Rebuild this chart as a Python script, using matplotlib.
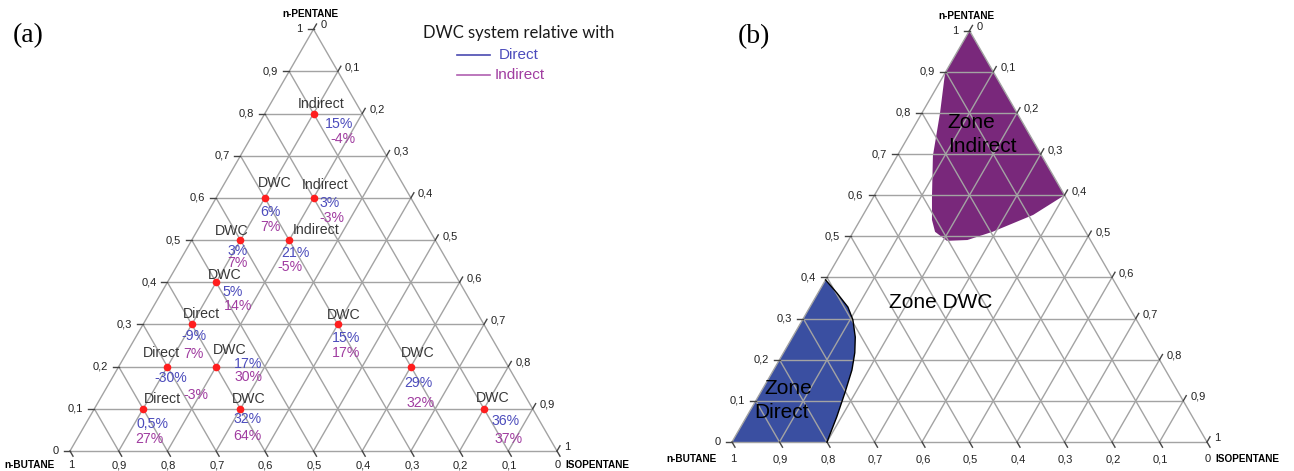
import numpy as np
import matplotlib
matplotlib.use("Agg")
import matplotlib.pyplot as plt
from matplotlib.patches import Polygon
from matplotlib.lines import Line2D

W, H, DPI = 1294, 471, 100
SQ = np.sqrt(3) / 2

# ---- data -------------------------------------------------------------
# feed compositions (mole fractions): n-pentane (top vertex), n-butane (left vertex)
pentane = [0.8, 0.6, 0.6, 0.5, 0.5, 0.4, 0.3, 0.2, 0.2, 0.1, 0.1, 0.3, 0.2, 0.1]
butane = [0.1, 0.3, 0.2, 0.4, 0.3, 0.5, 0.6, 0.7, 0.6, 0.8, 0.6, 0.3, 0.2, 0.1]
best_config = ["Indirect", "DWC", "Indirect", "DWC", "Indirect", "DWC", "Direct",
               "Direct", "DWC", "Direct", "DWC", "DWC", "DWC", "DWC"]
# DWC savings relative to the direct and indirect sequences (%)
vs_direct = [15, 6, 3, 3, 21, 5, -9, -30, 17, 0.5, 32, 15, 29, 36]
vs_indirect = [-4, 7, -3, 7, -5, 14, 7, -3, 30, 27, 64, 17, 32, 37]

ticks = [0.0, 0.1, 0.2, 0.3, 0.4, 0.5, 0.6, 0.7, 0.8, 0.9, 1.0]

# zone boundaries (n-pentane, n-butane)
zone_indirect_pentane = [1.0, 0.6, 0.552, 0.511, 0.491, 0.489, 0.511, 0.540, 0.596, 0.696, 0.80, 0.897]
zone_indirect_butane = [0.0, 0.0, 0.09, 0.196, 0.259, 0.303, 0.317, 0.309, 0.281, 0.229, 0.162, 0.103]
zone_direct_pentane = [0.0, 0.394, 0.362, 0.328, 0.297, 0.255, 0.217, 0.175, 0.119, 0.061, 0.0]
zone_direct_butane = [1.0, 0.606, 0.598, 0.592, 0.597, 0.613, 0.633, 0.660, 0.703, 0.749, 0.80]

# ---- label placement (pixel offsets from each point: name, direct, indirect)
name_off = [(8, -10), (10, -15), (12, -13), (-9, -9), (27, -10), (9, -7), (10, -10),
            (-6, -14), (14, -17), (19, -10), (8, -10), (6, -9), (7, -14), (9, -11)]
dir_off = [(26, 10), (6, 14), (16, 5), (-3, 11), (6, 13), (17, 10), (2, 12),
           (3, 11), (32, -3), (9, 15), (7, 10), (8, 14), (7, 16), (22, 12)]
ind_off = [(29, 25), (6, 29), (18, 20), (-3, 23), (1, 27), (22, 24), (2, 30),
           (28, 28), (32, 10), (6, 30), (7, 27), (8, 29), (10, 36), (25, 30)]

plt.rcParams["font.family"] = ["Liberation Sans", "DejaVu Sans"]

GRID = "#a3a3a3"
TICK = "#444444"
BLUE_TXT = "#4c4cbc"
PURP_TXT = "#a03ca0"
NAME_TXT = "#383838"
BLUE_ZONE = "#3a4fa1"
PURP_ZONE = "#79287b"


def fmt(v):
    return f"{v:g}".replace(".", ",")


class Panel:
    def __init__(self, fig, left, right, x0, ybase, side, gap):
        self.ax = fig.add_axes([left / W, 0, (right - left) / W, 1])
        self.x0, self.ybase, self.side, self.gap = x0, ybase, side, gap
        self.ax.set_xlim((left - x0) / side, (right - x0) / side)
        self.ax.set_ylim((ybase - H) / side, ybase / side)
        self.ax.axis("off")

    @staticmethod
    def xy(p, b):
        p = np.asarray(p, float)
        b = np.asarray(b, float)
        return 1 - b - 0.5 * p, SQ * p

    def px(self, x, y):
        return (x - self.x0) / self.side, (self.ybase - y) / self.side

    def seg(self, a, b, **kw):
        (x1, y1), (x2, y2) = self.xy(*a), self.xy(*b)
        self.ax.plot([x1, x2], [y1, y2], **kw)

    def lab(self, s, p, b, dx, dy, **kw):
        self.ax.annotate(s, self.xy(p, b), xytext=(dx, -dy),
                         textcoords="offset pixels", **kw)

    def frame(self):
        gkw = dict(color=GRID, lw=1.0, zorder=3, solid_capstyle="butt")
        for t in ticks[1:-1]:
            self.seg((t, 1 - t), (t, 0), **gkw)
            self.seg((0, t), (1 - t, t), **gkw)
            self.seg((0, 1 - t), (1 - t, 0), **gkw)
        self.seg((0, 1), (1, 0), **gkw)
        self.seg((1, 0), (0, 0), **gkw)
        self.seg((0, 0), (0, 1), **gkw)

        dl = 6 / self.side
        tkw = dict(color=TICK, lw=1.0, zorder=3)
        lkw = dict(fontsize=8, color="#222222", va="center")
        for t in ticks:
            s = fmt(t)
            # n-pentane, left side
            x, y = self.xy(t, 1 - t)
            self.ax.plot([x, x - dl], [y, y], **tkw)
            self.lab(s, t, 1 - t, -11, 0, ha="right", **lkw)
            # n-butane, base
            x, y = self.xy(0, t)
            self.ax.plot([x, x + 0.5 * dl], [y, y - SQ * dl], **tkw)
            self.lab(s, 0, t, 1, self.gap, ha="center", **lkw)
            # isopentane, right side
            x, y = self.xy(1 - t, 0)
            self.ax.plot([x, x + 0.5 * dl], [y, y + SQ * dl], **tkw)
            self.lab(s, 1 - t, 0, 7, -4, ha="left", **lkw)

        bkw = dict(fontsize=7.2, fontweight="bold", color="black", va="center")
        self.lab("n-PENTANE", 1, 0, -3, -15, ha="center", **bkw)
        self.lab("n-BUTANE", 0, 1, -15, self.gap, ha="right", **bkw)
        self.lab("ISOPENTANE", 0, 0, 8, self.gap, ha="left", **bkw)


fig = plt.figure(figsize=(W / DPI, H / DPI), dpi=DPI)

# ---- (a) DWC savings at each feed composition --------------------------
A = Panel(fig, 0, 647, 70, 451, 487, 14)
A.frame()
x, y = A.xy(pentane, butane)
A.ax.plot(x, y, "o", color="#ff1e1e", ms=5.5, mec="none", zorder=5)
for i in range(len(pentane)):
    p, b = pentane[i], butane[i]
    A.lab(best_config[i], p, b, *name_off[i], ha="center", va="center",
          fontsize=10.2, color=NAME_TXT, zorder=6)
    A.lab(fmt(vs_direct[i]) + "%", p, b, *dir_off[i], ha="center", va="center",
          fontsize=10.2, color=BLUE_TXT, zorder=6)
    A.lab(fmt(vs_indirect[i]) + "%", p, b, *ind_off[i], ha="center", va="center",
          fontsize=10.2, color=PURP_TXT, zorder=6)

fig.text(13 / W, 1 - 36 / H, "(a)", family="Liberation Serif", fontsize=20, va="center")
fig.text(423 / W, 1 - 33 / H, "DWC system relative with", family="Lato",
         fontsize=12, color="#1a1a1a", va="center")
fig.add_artist(Line2D([457 / W, 490 / W], [1 - 55 / H] * 2, color="#4a4ab0", lw=1.2))
fig.add_artist(Line2D([457 / W, 490 / W], [1 - 75 / H] * 2, color="#b060b0", lw=1.2))
fig.text(499 / W, 1 - 55 / H, "Direct", fontsize=11, color=BLUE_TXT, va="center")
fig.text(495 / W, 1 - 75 / H, "Indirect", fontsize=11, color=PURP_TXT, va="center")

# ---- (b) preferred configuration zones ---------------------------------
B = Panel(fig, 647, 1294, 732, 442, 475, 17)
xi, yi = B.xy(zone_indirect_pentane, zone_indirect_butane)
B.ax.add_patch(Polygon(np.column_stack([xi, yi]), closed=True, fc=PURP_ZONE,
                       ec="none", zorder=1))
xd, yd = B.xy(zone_direct_pentane, zone_direct_butane)
B.ax.add_patch(Polygon(np.column_stack([xd, yd]), closed=True, fc=BLUE_ZONE,
                       ec="none", zorder=1))
B.ax.plot(xd[1:], yd[1:], color="black", lw=1.0, zorder=4)
B.frame()

zkw = dict(fontsize=15, color="black", va="center", ha="left", zorder=6)
B.ax.text(*B.px(947, 123), "Zone", **zkw)
B.ax.text(*B.px(948, 147), "Indirect", **zkw)
B.ax.text(*B.px(889, 302), "Zone DWC", **zkw)
B.ax.text(*B.px(764, 388), "Zone", **zkw)
B.ax.text(*B.px(754, 412), "Direct", **zkw)

fig.text(738 / W, 1 - 37 / H, "(b)", family="Liberation Serif", fontsize=20, va="center")

fig.savefig("out.png", dpi=DPI)
